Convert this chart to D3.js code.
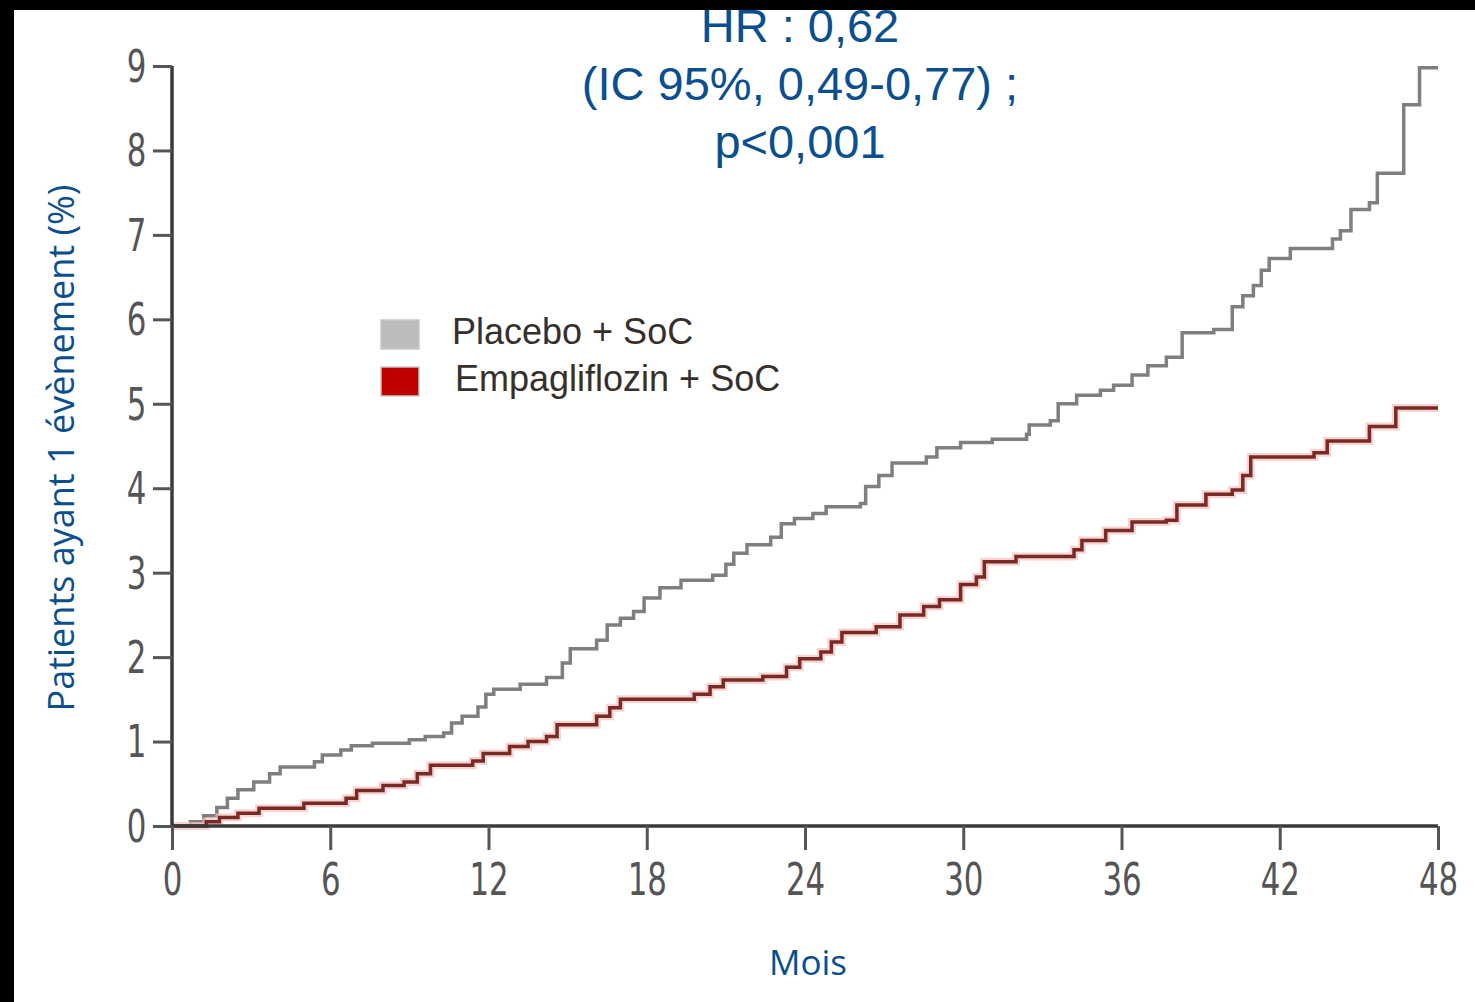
<!DOCTYPE html>
<html>
<head>
<meta charset="utf-8">
<script src="https://cdn.jsdelivr.net/npm/d3@7"></script>
<style>
  html, body { margin: 0; padding: 0; background: #000; }
  svg { display: block; }
</style>
</head>
<body>
<div id="chart"></div>
<script>
// months / cumulative % of patients with 1 event
var placeboT = [0, 0.7, 1.2, 1.7, 2.1, 2.5, 3.1, 3.7, 4.1, 5.4, 5.7, 6.4, 6.8, 7.6, 9.0, 9.6, 10.3, 10.6, 11.0, 11.6,
    11.9, 12.2, 13.2, 14.2, 14.8, 15.1, 16.1, 16.5, 17.0, 17.5, 17.9, 18.5, 19.3, 20.5, 21.0, 21.3, 21.8, 22.7, 23.1, 23.6,
    24.3, 24.8, 26.1, 26.3, 26.8, 27.3, 28.6, 29.0, 29.9, 31.1, 32.4, 32.5, 33.3, 33.6, 34.3, 35.2, 35.7, 36.4, 37.0, 37.7,
    38.3, 39.5, 40.2, 40.6, 41.0, 41.3, 41.6, 42.4, 44.0, 44.3, 44.7, 45.4, 45.7, 46.7, 47.3, 48];
var placeboV = [0, 0.05, 0.12, 0.22, 0.33, 0.43, 0.52, 0.62, 0.70, 0.76, 0.84, 0.90, 0.95, 0.98, 1.02, 1.06, 1.10, 1.22, 1.30, 1.41,
    1.56, 1.62, 1.68, 1.76, 1.93, 2.10, 2.20, 2.38, 2.46, 2.54, 2.70, 2.82, 2.91, 2.97, 3.10, 3.23, 3.33, 3.42, 3.58, 3.64,
    3.70, 3.78, 3.82, 4.02, 4.15, 4.30, 4.37, 4.48, 4.54, 4.58, 4.64, 4.75, 4.80, 5.00, 5.10, 5.16, 5.22, 5.34, 5.45, 5.55,
    5.84, 5.88, 6.15, 6.28, 6.40, 6.58, 6.72, 6.84, 6.95, 7.05, 7.30, 7.38, 7.73, 8.54, 8.98, 8.98];

var empaT = [0, 1.3, 1.8, 2.5, 3.3, 5.0, 6.6, 7.0, 8.0, 8.8, 9.3, 9.8, 11.4, 11.8, 12.8, 13.5, 14.2, 14.6, 16.1, 16.6,
    17.0, 19.8, 20.4, 20.9, 22.4, 23.3, 23.8, 24.6, 25.0, 25.4, 26.7, 27.6, 28.5, 29.1, 29.9, 30.5, 30.8, 32.0, 34.2, 34.5,
    35.4, 36.4, 37.7, 38.1, 39.2, 40.2, 40.6, 40.9, 43.3, 43.8, 45.4, 46.4, 48];
var empaV = [0, 0.05, 0.10, 0.15, 0.21, 0.27, 0.33, 0.42, 0.48, 0.52, 0.62, 0.72, 0.77, 0.86, 0.94, 1.00, 1.06, 1.20, 1.30, 1.40,
    1.50, 1.56, 1.65, 1.73, 1.77, 1.88, 1.98, 2.06, 2.18, 2.29, 2.36, 2.50, 2.60, 2.68, 2.86, 2.95, 3.13, 3.19, 3.27, 3.38,
    3.50, 3.60, 3.62, 3.80, 3.93, 3.98, 4.15, 4.37, 4.42, 4.56, 4.73, 4.95, 4.95];

var xTicks = [0, 6, 12, 18, 24, 30, 36, 42, 48];
var yTicks = [0, 1, 2, 3, 4, 5, 6, 7, 8, 9];
var seriesNames = ["Placebo + SoC", "Empagliflozin + SoC"];
var titleLines = ["HR : 0,62", "(IC 95%, 0,49-0,77) ;", "p<0,001"];

var W = 1475, H = 1002;
var blue = "#0b4f8f";

var svg = d3.select("#chart").append("svg")
    .attr("width", W)
    .attr("height", H);

// black frame at top / left like the original screenshot
svg.append("rect").attr("width", W).attr("height", H).attr("fill", "#000");
svg.append("rect").attr("x", 14).attr("y", 10).attr("width", W - 14).attr("height", H - 10).attr("fill", "#fff");

var x = d3.scaleLinear().domain([0, 48]).range([172, 1438]);
var y = d3.scaleLinear().domain([0, 9]).range([826, 66]);

function toPts(ts, vs) {
    return ts.map(function(t, i) { return {t: t, v: vs[i]}; });
}

var line = d3.line()
    .x(function(d) { return x(d.t); })
    .y(function(d) { return y(d.v); })
    .curve(d3.curveStepAfter);

// curves
svg.append("path")
    .datum(toPts(placeboT, placeboV))
    .attr("d", line)
    .attr("fill", "none")
    .attr("stroke", "#7f7f7f")
    .attr("stroke-width", 3.5);

svg.append("path")
    .datum(toPts(empaT, empaV))
    .attr("d", line)
    .attr("fill", "none")
    .attr("stroke", "#f3c2bd")
    .attr("stroke-opacity", 0.7)
    .attr("stroke-width", 8);

svg.append("path")
    .datum(toPts(empaT, empaV))
    .attr("d", line)
    .attr("fill", "none")
    .attr("stroke", "#7a2a24")
    .attr("stroke-width", 3.5);

// axes
var xAxis = d3.axisBottom(x).tickValues(xTicks).tickSize(24).tickPadding(8);
var yAxis = d3.axisLeft(y).tickValues(yTicks).tickSize(19).tickPadding(0);

var gx = svg.append("g")
    .attr("transform", "translate(0," + y(0) + ")")
    .call(xAxis);
var gy = svg.append("g")
    .attr("transform", "translate(" + x(0) + ",0)")
    .call(yAxis);

[gx, gy].forEach(function(g) {
    g.select(".domain").attr("stroke", "#3a3a3a").attr("stroke-width", 3.5);
    g.selectAll(".tick line").attr("stroke", "#555").attr("stroke-width", 3);
    g.selectAll(".tick text")
        .attr("fill", "#555")
        .attr("font-family", "'DejaVu Sans Condensed', sans-serif")
        .attr("font-size", 44);
});
gx.select(".domain").attr("d", "M" + x(0) + ",0H" + x(48));
gy.select(".domain").attr("d", "M0," + y(0) + "V" + y(9));
// squeeze the digits, the original font is very narrow
gx.selectAll(".tick text").attr("y", 38).attr("dy", "0.71em").attr("transform", "scale(0.78,1)");
gy.selectAll(".tick text").attr("x", -33).attr("dy", "0.35em").attr("transform", "scale(0.78,1)");

// title
svg.append("g").selectAll("text")
    .data(titleLines)
    .enter().append("text")
    .attr("x", 800)
    .attr("y", function(d, i) { return 42 + i * 58; })
    .attr("text-anchor", "middle")
    .attr("font-family", "'Liberation Sans', Arial, sans-serif")
    .attr("font-size", 47)
    .attr("fill", blue)
    .text(function(d) { return d; });

// axis titles
svg.append("text")
    .attr("transform", "translate(74,448) rotate(-90)")
    .attr("text-anchor", "middle")
    .attr("font-family", "'Open Sans', sans-serif")
    .attr("font-size", 36)
    .attr("fill", blue)
    .text("Patients ayant 1 évènement (%)");

svg.append("text")
    .attr("x", 808)
    .attr("y", 975)
    .attr("text-anchor", "middle")
    .attr("font-family", "'Open Sans', sans-serif")
    .attr("font-size", 35)
    .attr("fill", blue)
    .text("Mois");

// legend
var legendColors = ["#bcbcbc", "#c00000"];
var legend = svg.append("g").selectAll("g")
    .data(seriesNames)
    .enter().append("g")
    .attr("transform", function(d, i) { return "translate(381," + (320 + i * 47) + ")"; });

legend.append("rect")
    .attr("width", 38)
    .attr("height", 29)
    .attr("fill", function(d, i) { return legendColors[i]; })
    .attr("stroke", "#c8c8c8")
    .attr("stroke-width", 1.5);

legend.append("text")
    .attr("x", function(d, i) { return i == 0 ? 71 : 74; })
    .attr("y", 24)
    .attr("font-family", "'Liberation Sans', Arial, sans-serif")
    .attr("font-size", 36)
    .attr("fill", "#35302c")
    .text(function(d) { return d; });
</script>
</body>
</html>
